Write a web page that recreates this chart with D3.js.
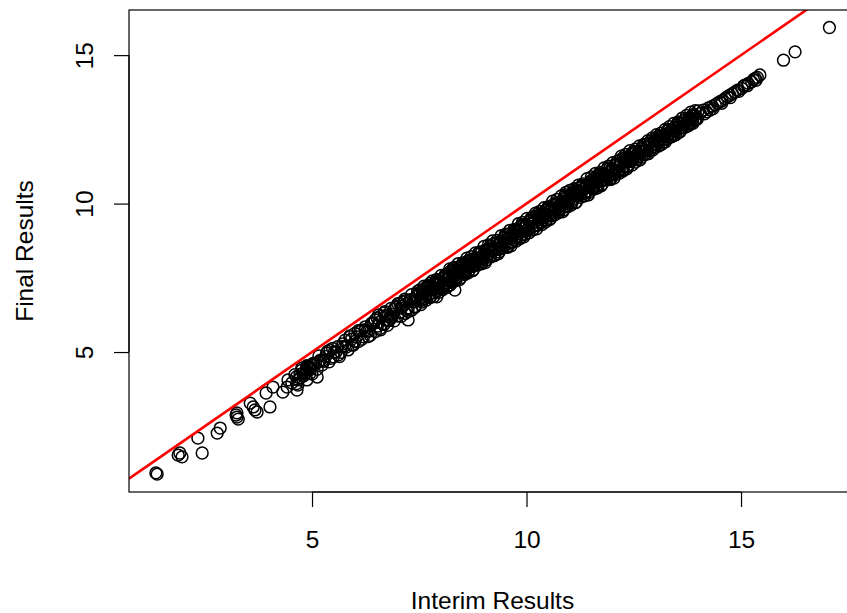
<!DOCTYPE html>
<html><head><meta charset="utf-8">
<script src="https://cdn.jsdelivr.net/npm/d3@7"></script>
<style>body{margin:0;background:#fff}svg{display:block}</style>
</head><body>
<script>
// Tick labels
const xTicks = [5, 10, 15];
const yTicks = [5, 10, 15];
const xLabel = "Interim Results";
const yLabel = "Final Results";

// Interim (x) and Final (y) results
const interim = [
1.36,1.39,1.88,1.97,1.92,2.44,2.34,2.79,2.86,3.25,3.28,3.23,3.25,3.63,3.67,3.56,3.72,4.02,3.93,4.09,4.32,4.42,4.44,4.53,4.65,4.67,4.72,4.79,4.88,4.95,5.02,5.12,4.88,
4.64,4.76,4.88,4.95,5.03,5.15,5.26,5.34,5.42,5.50,5.61,5.69,5.77,5.89,5.93,6.00,6.08,6.16,6.24,6.31,6.39,6.47,6.55,6.59,6.70,6.78,6.86,6.97,7.05,7.13,7.17,7.24,7.32,7.40,7.48,7.59,7.67,7.75,7.83,7.91,8.02,8.14,8.22,8.37,8.33,
4.60,4.68,4.76,4.84,4.92,5.00,5.08,5.16,5.24,5.32,5.40,5.48,5.56,5.64,5.72,5.80,5.88,5.96,6.04,6.12,6.20,6.28,6.36,6.44,6.52,6.60,6.68,6.76,6.84,6.92,7.00,7.08,7.16,7.24,7.32,7.40,7.48,
4.64,4.72,4.80,4.88,4.96,5.04,5.12,5.20,5.28,5.36,5.44,5.52,5.60,5.68,5.76,5.84,5.92,6.00,6.08,6.16,6.24,6.32,6.40,6.48,6.56,6.64,6.72,6.80,6.88,6.96,7.04,7.12,7.20,7.28,7.36,7.44,
6.52,6.60,6.68,6.76,6.84,6.92,7.00,7.08,7.16,7.24,7.32,7.40,7.46,
7.50,7.55,7.60,7.65,7.70,7.75,7.80,7.85,7.90,7.95,8.00,8.05,8.10,8.15,8.20,8.25,8.30,8.35,8.40,8.45,8.50,8.55,8.60,8.65,8.70,8.75,8.80,8.85,8.90,8.95,9.00,9.05,9.10,9.15,9.20,9.25,9.30,9.35,9.40,9.45,9.50,9.55,9.60,9.65,9.70,9.75,9.80,9.85,9.90,9.95,
10.00,10.05,10.10,10.15,10.20,10.25,10.30,10.35,10.40,10.45,10.50,10.55,10.60,10.65,10.70,10.75,10.80,10.85,10.90,10.95,11.00,11.05,11.10,11.15,11.20,11.25,11.30,11.35,11.40,11.45,11.50,11.55,11.60,11.65,11.70,11.75,11.80,11.85,11.90,11.95,12.00,12.05,12.10,12.15,12.20,12.25,12.30,12.35,12.40,12.45,12.50,
7.53,7.58,7.63,7.68,7.73,7.78,7.83,7.88,7.93,7.98,8.03,8.08,8.13,8.18,8.23,8.28,8.33,8.38,8.43,8.48,8.53,8.58,8.63,8.68,8.73,8.78,8.83,8.88,8.93,8.98,9.03,9.08,9.13,9.18,9.23,9.28,9.33,9.38,9.43,9.48,9.53,9.58,9.63,9.68,9.73,9.78,9.83,9.88,9.93,9.98,
10.03,10.08,10.13,10.18,10.23,10.28,10.33,10.38,10.43,10.48,10.53,10.58,10.63,10.68,10.73,10.78,10.83,10.88,10.93,10.98,11.03,11.08,11.13,11.18,11.23,11.28,11.33,11.38,11.43,11.48,11.53,11.58,11.63,11.68,11.73,11.78,11.83,11.88,11.93,11.98,12.03,12.08,12.13,12.18,12.23,12.28,12.33,12.38,12.43,12.48,
7.51,7.56,7.61,7.66,7.71,7.76,7.81,7.86,7.91,7.96,8.01,8.06,8.11,8.16,8.21,8.26,8.31,8.36,8.41,8.46,8.51,8.56,8.61,8.66,8.71,8.76,8.81,8.86,8.91,8.96,9.01,9.06,9.11,9.16,9.21,9.26,9.31,9.36,9.41,9.46,9.51,9.56,9.61,9.66,9.71,9.76,9.81,9.86,9.91,9.96,
10.01,10.06,10.11,10.16,10.21,10.26,10.31,10.36,10.41,10.46,10.51,10.56,10.61,10.66,10.71,10.76,10.81,10.86,10.91,10.96,11.01,11.06,11.11,11.16,11.21,11.26,11.31,11.36,11.41,11.46,11.51,11.56,11.61,11.66,11.71,11.76,11.81,11.86,11.91,11.96,12.01,12.06,12.11,12.16,12.21,12.26,12.31,12.36,12.41,12.46,
7.54,7.59,7.64,7.69,7.74,7.79,7.84,7.89,7.94,7.99,8.04,8.09,8.14,8.19,8.24,8.29,8.34,8.39,8.44,8.49,8.54,8.59,8.64,8.69,8.74,8.79,8.84,8.89,8.94,8.99,9.04,9.09,9.14,9.19,9.24,9.29,9.34,9.39,9.44,9.49,9.54,9.59,9.64,9.69,9.74,9.79,9.84,9.89,9.94,9.99,
10.04,10.09,10.14,10.19,10.24,10.29,10.34,10.39,10.44,10.49,10.54,10.59,10.64,10.69,10.74,10.79,10.84,10.89,10.94,10.99,11.04,11.09,11.14,11.19,11.24,11.29,11.34,11.39,11.44,11.49,11.54,11.59,11.64,11.69,11.74,11.79,11.84,11.89,11.94,11.99,
12.04,12.09,12.14,12.19,12.24,12.29,12.34,12.39,12.44,12.49,12.54,12.59,12.64,12.69,12.74,12.79,12.84,12.89,12.94,12.99,13.04,13.09,13.14,13.19,13.24,13.29,13.34,13.39,13.44,13.49,13.54,13.59,13.64,13.69,13.74,13.79,13.84,13.89,13.94,
12.55,12.60,12.65,12.70,12.75,12.80,12.85,12.90,12.95,13.00,13.05,13.10,13.15,13.20,13.25,13.30,13.35,13.40,13.45,13.50,13.55,13.60,13.65,13.70,13.75,13.80,13.85,13.90,13.95,14.00,
12.58,12.68,12.78,12.88,12.98,13.08,13.18,13.28,13.38,13.48,13.58,13.68,13.78,13.88,
12.53,12.58,12.63,12.68,12.73,12.78,12.83,12.88,12.93,12.98,13.03,13.08,13.13,13.18,13.23,13.28,13.33,13.38,13.43,13.48,13.53,13.58,13.63,13.68,13.73,13.78,13.83,13.88,13.93,13.98,
14.05,14.12,14.20,14.24,14.28,14.33,14.40,14.45,14.51,14.56,14.63,14.68,14.74,14.80,14.86,14.92,15.02,15.06,15.09,15.17,15.25,15.29,15.33,15.38,15.44,
14.15,14.35,14.55,14.75,14.95,15.15,15.35,
15.99,16.26,17.06,10.92,11.13,11.64,8.29,9.77,13.93
];
const final = [
0.93,0.89,1.53,1.47,1.60,1.60,2.10,2.27,2.44,2.81,2.74,2.88,2.95,3.15,3.05,3.28,2.98,3.15,3.62,3.82,3.65,3.82,4.06,3.96,3.72,3.89,4.13,4.29,4.39,4.50,4.56,4.16,4.06,
4.17,4.39,4.51,4.28,4.62,4.67,4.73,4.96,5.07,4.84,4.90,5.18,5.40,5.52,5.24,5.63,5.35,5.74,5.85,5.52,5.97,6.08,6.25,5.80,6.36,6.08,6.19,6.53,6.64,6.69,6.30,6.08,6.41,6.53,6.75,6.98,7.20,7.31,7.09,6.86,7.14,7.42,7.26,7.54,7.09,
4.24,4.06,4.46,4.26,4.49,4.26,4.59,4.87,4.57,4.85,4.67,5.12,5.00,4.85,5.27,5.17,5.54,5.23,5.51,5.71,5.51,5.70,5.56,5.97,5.87,6.21,5.93,6.22,6.14,6.46,6.21,6.48,6.72,6.49,6.77,6.70,6.98,
3.94,4.25,4.19,4.54,4.41,4.62,4.42,4.73,4.69,5.02,4.79,4.99,5.18,4.99,5.20,5.07,5.43,5.36,5.72,5.43,5.75,5.70,5.96,5.69,6.00,5.95,6.23,6.06,6.27,6.52,6.32,6.55,6.41,6.75,6.69,6.88,
6.15,5.75,6.32,5.90,6.47,6.05,6.63,6.20,6.78,6.36,6.93,6.51,7.04,
6.96,6.74,6.97,6.92,7.20,6.97,7.21,7.16,7.06,7.41,7.33,7.28,7.51,7.33,7.56,7.74,7.55,7.48,7.77,7.74,7.94,7.72,7.91,8.05,7.90,7.89,8.17,8.17,7.99,8.35,8.24,8.38,8.26,8.57,8.40,8.51,8.67,8.45,8.73,8.66,8.86,8.64,8.87,8.82,9.10,8.87,9.11,9.06,8.96,9.31,
9.23,9.18,9.41,9.23,9.46,9.64,9.46,9.38,9.67,9.64,9.85,9.62,9.81,9.95,9.81,9.79,10.07,10.07,9.90,10.25,10.14,10.28,10.17,10.47,10.30,10.41,10.58,10.35,10.63,10.56,10.77,10.54,10.77,10.72,11.01,10.77,11.01,10.96,10.87,11.21,11.13,11.08,11.32,11.13,11.36,11.54,11.36,11.28,11.57,11.54,11.75,
6.81,7.06,6.80,7.06,7.16,6.99,7.16,7.37,7.16,7.37,7.21,7.51,7.41,7.67,7.38,7.61,7.72,7.61,7.86,7.67,7.87,7.69,8.07,7.96,8.09,7.93,8.14,8.33,8.15,8.15,8.42,8.20,8.45,8.42,8.63,8.46,8.59,8.73,8.52,8.77,8.71,8.96,8.70,8.96,9.06,8.89,9.06,9.27,9.06,9.27,
9.11,9.41,9.31,9.57,9.28,9.51,9.63,9.51,9.76,9.57,9.78,9.59,9.97,9.86,10.00,9.83,10.04,10.23,10.06,10.05,10.32,10.10,10.35,10.32,10.53,10.36,10.49,10.63,10.42,10.67,10.61,10.86,10.60,10.86,10.96,10.79,10.96,11.17,10.96,11.17,11.01,11.31,11.21,11.47,11.18,11.41,11.53,11.41,11.66,11.47,
7.09,6.68,7.22,6.74,7.24,6.85,7.40,6.99,7.45,7.01,7.58,7.17,7.61,7.22,7.80,7.34,7.85,7.44,7.98,7.50,8.00,7.61,8.16,7.75,8.21,7.77,8.34,7.93,8.37,7.98,8.56,8.10,8.61,8.20,8.74,8.26,8.76,8.37,8.92,8.51,8.97,8.53,9.10,8.69,9.13,8.74,9.32,8.86,9.37,8.96,
9.50,9.02,9.52,9.13,9.68,9.27,9.74,9.29,9.86,9.45,9.90,9.50,10.08,9.62,10.14,9.72,10.26,9.78,10.29,9.89,10.44,10.03,10.50,10.05,10.62,10.21,10.66,10.26,10.84,10.38,10.90,10.48,11.02,10.54,11.05,10.65,11.20,10.79,11.26,10.81,11.38,10.97,11.42,11.02,11.60,11.14,11.66,11.24,11.78,11.30,
6.60,6.99,6.86,7.18,6.83,7.12,6.87,7.32,7.08,7.35,7.10,7.54,7.17,7.56,7.43,7.75,7.40,7.69,7.44,7.89,7.65,7.92,7.67,8.11,7.74,8.13,8.00,8.32,7.97,8.26,8.01,8.46,8.22,8.49,8.24,8.68,8.31,8.70,8.57,8.89,8.54,8.83,8.58,9.03,8.79,9.06,8.81,9.25,8.88,9.27,
9.14,9.46,9.11,9.40,9.15,9.60,9.37,9.63,9.38,9.82,9.46,9.84,9.71,10.03,9.69,9.97,9.72,10.17,9.94,10.20,9.95,10.39,10.03,10.41,10.28,10.60,10.26,10.54,10.29,10.74,10.51,10.77,10.52,10.96,10.60,10.98,10.85,11.17,10.83,11.11,
10.86,11.31,11.08,11.34,11.09,11.53,11.17,11.55,11.42,11.74,11.40,11.68,11.47,11.88,11.65,11.91,11.68,12.10,11.80,12.12,11.99,12.28,11.99,12.25,12.08,12.45,12.24,12.48,12.29,12.64,12.39,12.68,12.56,12.83,12.60,12.82,12.71,13.00,12.83,
11.75,11.57,11.77,11.73,11.97,11.79,11.99,11.96,11.90,12.18,12.13,12.10,12.30,12.16,12.35,12.50,12.37,12.32,12.56,12.54,12.72,12.55,12.71,12.83,12.73,12.72,12.95,12.96,12.84,13.12,
11.62,11.85,11.80,12.04,12.00,12.08,12.31,12.28,12.47,12.45,12.68,12.66,12.87,12.86,
11.83,11.49,11.94,11.56,11.99,11.66,12.12,11.80,12.21,11.87,12.32,11.94,12.37,12.04,12.50,12.18,12.59,12.25,12.70,12.32,12.75,12.42,12.88,12.56,12.97,12.63,13.08,12.70,13.13,12.85,
13.04,13.15,13.09,13.22,13.15,13.28,13.32,13.38,13.43,13.47,13.54,13.60,13.65,13.70,13.76,13.82,13.88,13.96,13.99,14.05,14.10,14.17,14.22,14.25,14.33,
13.02,13.20,13.38,13.57,13.78,13.97,14.15,
14.83,15.11,15.93,10.38,10.36,10.85,7.82,9.08,12.81
];

const W = 847, H = 613;
const plot = {left: 129, right: 856, top: 10, bottom: 492};
const svg = d3.select("body").append("svg").attr("width", W).attr("height", H);

const x = d3.scaleLinear().domain([0.734, 17.68]).range([plot.left, plot.right]);
const y = d3.scaleLinear().domain([0.286, 16.52]).range([plot.bottom, plot.top]);

svg.append("defs").append("clipPath").attr("id", "clip")
  .append("rect").attr("x", plot.left).attr("y", plot.top)
  .attr("width", plot.right - plot.left).attr("height", plot.bottom - plot.top);

const font = "'Liberation Sans', Arial, Helvetica, sans-serif";

// points
const data = interim.map((v, i) => ({x: v, y: final[i]}));
svg.append("g").selectAll("circle").data(data).join("circle")
  .attr("cx", d => x(d.x)).attr("cy", d => y(d.y)).attr("r", 5.9)
  .attr("fill", "none").attr("stroke", "#000").attr("stroke-width", 1.5);

// y = x reference line
const dom = x.domain();
svg.append("line").attr("clip-path", "url(#clip)")
  .attr("x1", x(dom[0])).attr("y1", y(dom[0]))
  .attr("x2", x(dom[1])).attr("y2", y(dom[1]))
  .attr("stroke", "#ff0000").attr("stroke-width", 2.6);

// box
svg.append("rect").attr("x", plot.left).attr("y", plot.top)
  .attr("width", plot.right - plot.left).attr("height", plot.bottom - plot.top)
  .attr("fill", "none").attr("stroke", "#000").attr("stroke-width", 1.2);

// axes
const xAxis = d3.axisBottom(x).tickValues(xTicks).tickSize(15).tickPadding(0).tickFormat(d3.format("d"));
const gx = svg.append("g").attr("transform", `translate(0,${plot.bottom})`).call(xAxis);
gx.select(".domain").attr("d", `M${x(xTicks[0])},0H${x(xTicks[xTicks.length-1])}`).attr("stroke-width", 1.2);
gx.selectAll(".tick line").attr("stroke-width", 1.2);
gx.selectAll(".tick text").attr("y", 56).attr("dy", null)
  .style("font-family", font).style("font-size", "24.5px").attr("fill", "#000");

const yAxis = d3.axisLeft(y).tickValues(yTicks).tickSize(15).tickPadding(0).tickFormat(d3.format("d"));
const gy = svg.append("g").attr("transform", `translate(${plot.left},0)`).call(yAxis);
gy.select(".domain").attr("d", `M0,${y(yTicks[0])}V${y(yTicks[yTicks.length-1])}`).attr("stroke-width", 1.2);
gy.selectAll(".tick line").attr("stroke-width", 1.2);
gy.selectAll(".tick text").attr("x", null).attr("dy", null)
  .attr("transform", "translate(-36,0) rotate(-90)")
  .attr("text-anchor", "middle").attr("y", 0)
  .style("font-family", font).style("font-size", "24.5px").attr("fill", "#000");

svg.append("text").attr("x", (plot.left + plot.right) / 2).attr("y", 609)
  .attr("text-anchor", "middle").style("font-family", font).style("font-size", "24.5px")
  .text(xLabel);
svg.append("text").attr("transform", `translate(33,${(plot.top + plot.bottom) / 2}) rotate(-90)`)
  .attr("text-anchor", "middle").style("font-family", font).style("font-size", "24.5px")
  .text(yLabel);
</script>
</body></html>
